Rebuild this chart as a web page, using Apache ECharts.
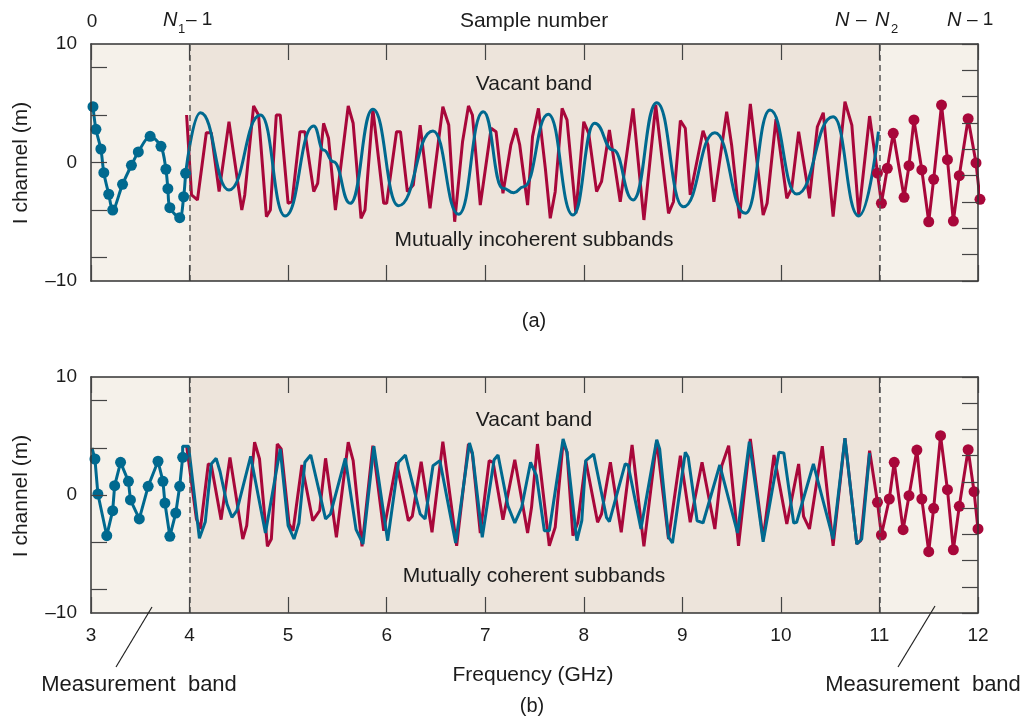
<!DOCTYPE html>
<html>
<head>
<meta charset="utf-8">
<script src="https://cdn.jsdelivr.net/npm/echarts@6/dist/echarts.min.js"></script>
<style>
  html, body { margin: 0; padding: 0; background: #ffffff; }
  #chart { width: 1026px; height: 719px; }
</style>
</head>
<body>
<div id="chart"></div>
<script>
// Frequency axis (GHz) and I-channel axis (m)
const freqTicks = [3, 4, 5, 6, 7, 8, 9, 10, 11, 12];
const iLabelValues = [-10, 0, 10];
const iTickValues = [-8, -4, 0, 4, 8];
const bandEdges = [4, 11];

// (a) mutually incoherent subbands — [frequency GHz, I channel m]
const blueTopMeasured = [
  [3.02, 4.71], [3.05, 2.80], [3.10, 1.14], [3.13, -0.86], [3.18, -2.68], [3.22, -4.01],
  [3.32, -1.84], [3.41, -0.24], [3.48, 0.89], [3.60, 2.21], [3.71, 1.37], [3.76, -0.57],
  [3.78, -2.21], [3.80, -3.81], [3.90, -4.66], [3.94, -2.89], [3.96, -0.91]
];
const blueTopVacant = [
  [3.96, -0.91], [4.11, 4.20], [4.40, -2.32], [4.72, 4.01], [4.97, -4.52], [5.26, 3.08],
  [5.36, 1.05], [5.46, 0.07], [5.63, -3.44], [5.86, 4.49], [6.12, -3.65], [6.47, 2.66],
  [6.73, -4.37], [6.98, 4.29], [7.18, -2.18], [7.29, -2.55], [7.39, -2.04], [7.64, 4.07],
  [7.89, -4.43], [8.11, 3.31], [8.30, 1.05], [8.50, -3.16], [8.74, 5.05], [9.01, -3.73],
  [9.33, 2.51], [9.64, -4.29], [9.89, 4.43], [10.16, -2.66], [10.53, 3.86], [10.79, -4.51],
  [10.99, 2.60]
];
const redTopVacant = [
  [3.97, 4.01], [4.02, -2.74], [4.08, -3.16], [4.17, 2.51], [4.22, 2.51], [4.30, -2.46],
  [4.40, 3.44], [4.53, -4.01], [4.56, -2.74], [4.65, 4.77], [4.70, 4.01], [4.78, -4.57],
  [4.82, -4.01], [4.88, 4.01], [4.92, 4.01], [5.00, -3.44], [5.04, -3.31], [5.12, 2.60],
  [5.17, 2.60], [5.26, -2.46], [5.30, -1.76], [5.36, 3.31], [5.41, 2.04], [5.48, -4.01],
  [5.61, 4.77], [5.66, 3.31], [5.74, -4.71], [5.78, -4.01], [5.86, 4.49], [5.97, -3.44],
  [6.00, -3.44], [6.10, 2.60], [6.14, 2.60], [6.21, -2.46], [6.27, -1.90], [6.34, 3.16],
  [6.44, -3.86], [6.57, 4.71], [6.63, 3.16], [6.69, -5.00], [6.77, 1.76], [6.83, 4.77],
  [6.87, 4.01], [6.95, -3.59], [7.06, 2.89], [7.11, 2.60], [7.18, -2.60], [7.26, 1.48],
  [7.31, 2.89], [7.35, 1.48], [7.43, -3.59], [7.48, 2.18], [7.54, 4.57], [7.61, -0.49],
  [7.66, -4.71], [7.71, -2.46], [7.78, 4.57], [7.83, 3.59], [7.92, -4.29], [8.00, 3.44],
  [8.05, 2.46], [8.13, -2.46], [8.18, -1.62], [8.26, 2.74], [8.37, -3.31], [8.50, 4.57],
  [8.61, -4.85], [8.73, 4.85], [8.86, -4.29], [8.91, -3.31], [8.98, 3.53], [9.03, 2.89],
  [9.08, -2.74], [9.21, 2.68], [9.26, 1.48], [9.32, -3.31], [9.45, 4.29], [9.50, 1.48],
  [9.58, -4.71], [9.69, 4.94], [9.82, -4.43], [9.86, -3.44], [9.95, 3.65], [10.06, -3.02],
  [10.11, -2.18], [10.18, 2.60], [10.29, -3.02], [10.37, 3.02], [10.43, 4.20], [10.53, -4.57],
  [10.65, 5.13], [10.72, 3.16], [10.79, -4.43], [10.90, 3.92], [10.98, -0.89]
];
const redTopMeasured = [
  [10.98, -0.89], [11.02, -3.44], [11.08, -0.49], [11.14, 2.46], [11.25, -2.94], [11.30, -0.27],
  [11.35, 3.59], [11.43, -0.63], [11.50, -5.00], [11.55, -1.42], [11.63, 4.85], [11.69, 0.24],
  [11.75, -4.94], [11.81, -1.11], [11.90, 3.70], [11.98, -0.04], [12.02, -3.11]
];

// (b) mutually coherent subbands
const blueBottomMeasured = [
  [3.01, 4.00], [3.04, 3.05], [3.07, 0.08], [3.16, -3.45], [3.22, -1.33], [3.24, 0.79],
  [3.30, 2.77], [3.38, 1.16], [3.40, -0.42], [3.49, -2.03], [3.58, 0.74], [3.68, 2.86],
  [3.73, 1.16], [3.75, -0.68], [3.80, -3.50], [3.86, -1.53], [3.90, 0.74], [3.93, 3.19]
];
const blueBottomVacant = [
  [3.93, 3.19], [3.93, 4.13], [3.99, 4.13], [4.10, -3.67], [4.16, -2.26], [4.22, 2.63],
  [4.27, 3.11], [4.31, 1.97], [4.38, -0.76], [4.43, -1.89], [4.48, -1.33], [4.62, 3.28],
  [4.77, -3.22], [4.79, -3.16], [4.92, 3.90], [5.00, -2.60], [5.06, -3.73], [5.11, -2.37],
  [5.17, 2.77], [5.23, 3.39], [5.38, -2.03], [5.43, -1.61], [5.58, 3.11], [5.69, -2.94],
  [5.76, -4.15], [5.87, 4.13], [6.01, -3.87], [6.12, 2.77], [6.19, 3.39], [6.34, -1.61],
  [6.39, -2.03], [6.47, 2.48], [6.54, 2.91], [6.70, -4.07], [6.84, 4.41], [6.87, 3.56],
  [6.97, -3.58], [7.09, 2.99], [7.13, 3.39], [7.23, -0.91], [7.30, -2.37], [7.37, -1.04],
  [7.46, 2.77], [7.52, 1.64], [7.60, -3.03], [7.65, -3.03], [7.79, 4.75], [7.83, 3.62],
  [7.93, -3.87], [7.98, -2.18], [8.02, 2.91], [8.10, 3.47], [8.23, -1.89], [8.26, -2.26],
  [8.42, 2.63], [8.45, 2.54], [8.58, -2.88], [8.74, 4.69], [8.77, 3.90], [8.86, -3.58],
  [8.90, -4.07], [9.03, 3.62], [9.06, 3.19], [9.15, -2.18], [9.21, -2.37], [9.38, 2.54],
  [9.56, -3.22], [9.68, 4.52], [9.82, -3.96], [9.98, 3.62], [10.03, 3.56], [10.13, -2.37],
  [10.16, -2.31], [10.33, 2.63], [10.53, -3.73], [10.65, 4.81], [10.77, -4.15], [10.82, -3.73],
  [10.90, 3.56]
];
const redBottomVacant = [
  [3.97, 4.18], [4.07, -2.03], [4.11, -2.88], [4.19, 2.63], [4.22, 2.54], [4.32, -2.09],
  [4.41, 3.19], [4.54, -3.73], [4.58, -2.60], [4.66, 4.47], [4.71, 3.05], [4.79, -4.35],
  [4.83, -3.73], [4.89, 4.32], [4.93, 3.90], [5.01, -2.46], [5.05, -3.03], [5.14, 2.54],
  [5.25, -2.18], [5.32, -1.33], [5.38, 3.11], [5.49, -3.58], [5.61, 4.47], [5.66, 2.91],
  [5.75, -4.35], [5.86, 4.18], [5.97, -3.03], [6.10, 2.77], [6.22, -2.18], [6.26, -1.81],
  [6.35, 2.82], [6.46, -3.16], [6.57, 4.52], [6.71, -4.30], [6.83, 4.32], [6.87, 3.47],
  [6.95, -3.22], [7.04, 2.91], [7.08, 2.77], [7.18, -2.09], [7.30, 2.99], [7.43, -3.22],
  [7.47, -1.04], [7.53, 4.32], [7.65, -4.30], [7.71, -2.74], [7.79, 4.47], [7.83, 3.62],
  [7.89, -3.45], [7.94, -2.31], [8.02, 2.91], [8.14, -2.31], [8.18, -1.61], [8.27, 2.77],
  [8.38, -3.16], [8.49, 4.24], [8.61, -4.35], [8.74, 4.60], [8.86, -3.73], [8.98, 3.33],
  [9.08, -2.31], [9.20, 2.77], [9.33, -2.88], [9.40, 2.48], [9.47, 4.18], [9.57, -4.30],
  [9.69, 4.75], [9.82, -3.73], [9.93, 3.39], [10.06, -2.46], [10.18, 2.63], [10.23, -1.81],
  [10.29, -2.88], [10.42, 4.13], [10.53, -4.30], [10.65, 4.81], [10.77, -4.15], [10.81, -3.87],
  [10.90, 3.75], [10.98, -0.62]
];
const redBottomMeasured = [
  [10.98, -0.62], [11.02, -3.39], [11.10, -0.34], [11.15, 2.77], [11.24, -2.94], [11.30, -0.06],
  [11.38, 3.81], [11.43, -0.34], [11.50, -4.80], [11.55, -1.13], [11.62, 5.03], [11.69, 0.45],
  [11.75, -4.64], [11.81, -0.96], [11.90, 3.84], [11.96, 0.28], [12.00, -2.88]
];

const BLUE = '#00698f';
const RED = '#a8073a';
const INK = '#1c1c1c';
const FONT = '"Liberation Sans", Arial, sans-serif';
const FRAME = '#333333';

function xAxisFor(gridIndex, position, labels) {
  return {
    type: 'value', gridIndex, position, min: 3, max: 12, interval: 1, z: 5,
    axisLine: { show: true, onZero: false, lineStyle: { color: FRAME, width: 1.5 } },
    axisTick: { show: true, inside: true, length: 16, lineStyle: { color: '#444', width: 1.2 } },
    axisLabel: { show: labels, color: INK, fontSize: 19, fontFamily: FONT, margin: 13,
                 customValues: freqTicks },
    splitLine: { show: false }
  };
}
function iAxis(gridIndex) {
  return {
    type: 'value', gridIndex, position: 'left', min: -10, max: 10, z: 5,
    axisLine: { show: true, onZero: false, lineStyle: { color: FRAME, width: 1.5 } },
    axisTick: { show: true, inside: true, length: 16, customValues: iTickValues,
                lineStyle: { color: '#444', width: 1.2 } },
    axisLabel: { show: true, customValues: iLabelValues, color: INK, fontSize: 19,
                 fontFamily: FONT, margin: 14,
                 formatter: v => (v < 0 ? '\u2013' + Math.abs(v) : String(v)) },
    splitLine: { show: false }
  };
}
function rightAxis(gridIndex) {
  return {
    type: 'value', gridIndex, position: 'right', min: 0, max: 9, interval: 1, z: 5,
    axisLine: { show: true, onZero: false, lineStyle: { color: FRAME, width: 1.5 } },
    axisTick: { show: true, inside: true, length: 16, lineStyle: { color: '#444', width: 1.2 } },
    axisLabel: { show: false },
    splitLine: { show: false }
  };
}

// Vacant-band shading and band-edge dashed lines for one panel
function bandSeries(xi, yi) {
  return {
    type: 'line', xAxisIndex: xi, yAxisIndex: yi, data: [], z: 1, silent: true,
    markArea: {
      silent: true,
      itemStyle: { color: '#ede4db' },
      data: [[{ xAxis: bandEdges[0] }, { xAxis: bandEdges[1] }]]
    },
    markLine: {
      silent: true, symbol: 'none', label: { show: false },
      lineStyle: { color: '#555', width: 1.5, type: [6, 4] },
      data: bandEdges.map(v => ({ xAxis: v }))
    }
  };
}
function trace(xi, yi, data, color, opts) {
  return Object.assign({
    type: 'line', xAxisIndex: xi, yAxisIndex: yi, data, z: 3,
    lineStyle: { color, width: 3 }, itemStyle: { color },
    symbol: 'circle', symbolSize: 11, showSymbol: false,
    clip: false, silent: true, animation: false
  }, opts || {});
}

const option = {
  animation: false,
  backgroundColor: '#ffffff',
  grid: [
    { left: 91, top: 44, width: 887, height: 237, show: true, backgroundColor: '#f5f1ea', borderWidth: 0 },
    { left: 91, top: 377, width: 887, height: 236, show: true, backgroundColor: '#f5f1ea', borderWidth: 0 }
  ],
  xAxis: [
    xAxisFor(0, 'bottom', false), xAxisFor(0, 'top', false),
    xAxisFor(1, 'bottom', true), xAxisFor(1, 'top', false)
  ],
  yAxis: [iAxis(0), rightAxis(0), iAxis(1), rightAxis(1)],
  series: [
    bandSeries(0, 0),
    bandSeries(2, 2),
    // (a)
    trace(0, 0, redTopVacant, RED, { z: 2 }),
    trace(0, 0, redTopMeasured, RED, { showSymbol: true, z: 4 }),
    trace(0, 0, blueTopVacant, BLUE, { smooth: 0.5, smoothMonotone: 'x', z: 3 }),
    trace(0, 0, blueTopMeasured, BLUE, { showSymbol: true, smooth: 0.3, z: 4 }),
    // (b)
    trace(2, 2, redBottomVacant, RED, { z: 2 }),
    trace(2, 2, redBottomMeasured, RED, { showSymbol: true, z: 4 }),
    trace(2, 2, blueBottomVacant, BLUE, { z: 3 }),
    trace(2, 2, blueBottomMeasured, BLUE, {
      showSymbol: true, z: 4,
      symbolSize: (v, p) => (p.dataIndex === 0 ? 0 : 11)
    })
  ],
  graphic: [
    // sample-number axis labels
    { type: 'text', x: 92, y: 22, style: { text: '0', font: '19px ' + FONT, fill: INK, align: 'center', verticalAlign: 'middle' } },
    { type: 'text', x: 163, y: 20, style: { text: 'N', font: 'italic 20px ' + FONT, fill: INK, align: 'left', verticalAlign: 'middle' } },
    { type: 'text', x: 178, y: 29, style: { text: '1', font: '13px ' + FONT, fill: INK, align: 'left', verticalAlign: 'middle' } },
    { type: 'text', x: 186, y: 20, style: { text: '\u2013 1', font: '19px ' + FONT, fill: INK, align: 'left', verticalAlign: 'middle' } },
    { type: 'text', x: 534, y: 21, style: { text: 'Sample number', font: '21px ' + FONT, fill: INK, align: 'center', verticalAlign: 'middle' } },
    { type: 'text', x: 835, y: 20, style: { text: 'N', font: 'italic 20px ' + FONT, fill: INK, align: 'left', verticalAlign: 'middle' } },
    { type: 'text', x: 856, y: 20, style: { text: '\u2013', font: '19px ' + FONT, fill: INK, align: 'left', verticalAlign: 'middle' } },
    { type: 'text', x: 875, y: 20, style: { text: 'N', font: 'italic 20px ' + FONT, fill: INK, align: 'left', verticalAlign: 'middle' } },
    { type: 'text', x: 891, y: 29, style: { text: '2', font: '13px ' + FONT, fill: INK, align: 'left', verticalAlign: 'middle' } },
    { type: 'text', x: 947, y: 20, style: { text: 'N', font: 'italic 20px ' + FONT, fill: INK, align: 'left', verticalAlign: 'middle' } },
    { type: 'text', x: 967, y: 20, style: { text: '\u2013 1', font: '19px ' + FONT, fill: INK, align: 'left', verticalAlign: 'middle' } },
    // y-axis titles
    { type: 'text', x: 21, y: 163, rotation: Math.PI / 2, style: { text: 'I channel (m)', font: '21px ' + FONT, fill: INK, align: 'center', verticalAlign: 'middle' } },
    { type: 'text', x: 21, y: 496, rotation: Math.PI / 2, style: { text: 'I channel (m)', font: '21px ' + FONT, fill: INK, align: 'center', verticalAlign: 'middle' } },
    // in-panel annotations
    { type: 'text', x: 534, y: 84, z: 10, style: { text: 'Vacant band', font: '21px ' + FONT, fill: INK, align: 'center', verticalAlign: 'middle' } },
    { type: 'text', x: 534, y: 240, z: 10, style: { text: 'Mutually incoherent subbands', font: '21px ' + FONT, fill: INK, align: 'center', verticalAlign: 'middle' } },
    { type: 'text', x: 534, y: 420, z: 10, style: { text: 'Vacant band', font: '21px ' + FONT, fill: INK, align: 'center', verticalAlign: 'middle' } },
    { type: 'text', x: 534, y: 576, z: 10, style: { text: 'Mutually coherent subbands', font: '21px ' + FONT, fill: INK, align: 'center', verticalAlign: 'middle' } },
    // panel captions and frequency title
    { type: 'text', x: 534, y: 321, style: { text: '(a)', font: '20px ' + FONT, fill: INK, align: 'center', verticalAlign: 'middle' } },
    { type: 'text', x: 533, y: 675, style: { text: 'Frequency (GHz)', font: '21px ' + FONT, fill: INK, align: 'center', verticalAlign: 'middle' } },
    { type: 'text', x: 532, y: 706, style: { text: '(b)', font: '20px ' + FONT, fill: INK, align: 'center', verticalAlign: 'middle' } },
    // measurement-band callouts
    { type: 'line', z: 10, shape: { x1: 152, y1: 607, x2: 116, y2: 667 }, style: { stroke: '#222', lineWidth: 1.2 } },
    { type: 'text', x: 139, y: 685, style: { text: 'Measurement  band', font: '22px ' + FONT, fill: INK, align: 'center', verticalAlign: 'middle' } },
    { type: 'line', z: 10, shape: { x1: 935, y1: 606, x2: 898, y2: 667 }, style: { stroke: '#222', lineWidth: 1.2 } },
    { type: 'text', x: 923, y: 685, style: { text: 'Measurement  band', font: '22px ' + FONT, fill: INK, align: 'center', verticalAlign: 'middle' } }
  ]
};

const chart = echarts.init(document.getElementById('chart'), null, { renderer: 'canvas' });
chart.setOption(option);
</script>
</body>
</html>
